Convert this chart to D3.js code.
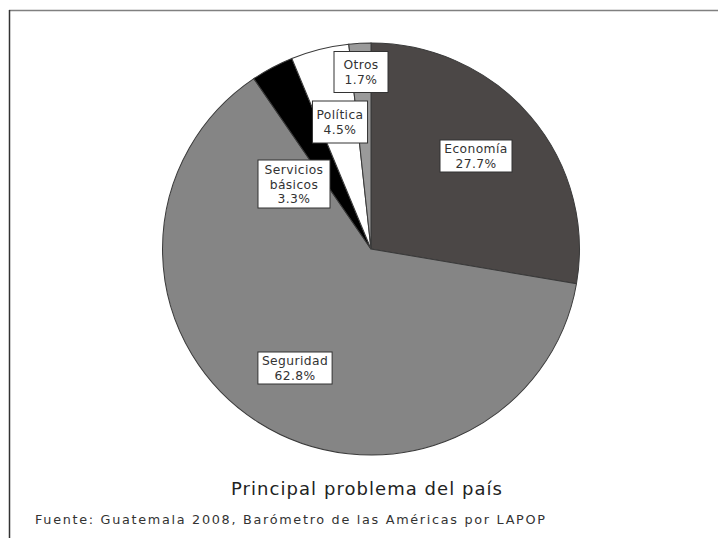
<!DOCTYPE html>
<html><head><meta charset="utf-8">
<script src="https://cdn.jsdelivr.net/npm/d3@7"></script>
<style>body{margin:0;background:#fff}</style>
</head><body><svg id="c" width="718" height="538"></svg>
<script>
const categories = ["Economía","Seguridad","Servicios básicos","Política","Otros"];
const values = [27.7, 62.8, 3.3, 4.5, 1.7];
const colors = ["#4b4746","#858585","#000000","#ffffff","#9a9a9a"];
const title = "Principal problema del país";
const source = "Fuente: Guatemala 2008, Barómetro de las Américas por LAPOP";
// label placement (box centers relative to pie center) and minimum box sizes, as laid out in the original
const labelOffsets = [[105,-93],[-76,119],[-77,-65],[-31,-127],[-10,-177]];
const labelMinSize = [[72,32],[74,32],[72,48],[54,42],[54,41]];

const svg = d3.select("#c");
const cx=371, cy=249, R=206;
const FONT = "DejaVu Sans, Verdana, sans-serif";

svg.append("line").attr("x1",9).attr("x2",718).attr("y1",10.5).attr("y2",10.5).attr("stroke","#808080").attr("stroke-width",1.5);
svg.append("line").attr("x1",9.5).attr("x2",9.5).attr("y1",10).attr("y2",538).attr("stroke","#333").attr("stroke-width",1.5);

const pie = d3.pie().sort(null).value(d=>d);
const arcs = pie(values);
const arc = d3.arc().innerRadius(0).outerRadius(R);
const g = svg.append("g").attr("transform",`translate(${cx},${cy})`);
g.append("g").attr("transform","scale(1.012,1)")
  .selectAll("path").data(arcs).join("path")
  .attr("d",arc).attr("fill",(d,i)=>colors[i])
  .attr("stroke","#3a3a3a").attr("stroke-width",1);

const fmt = d3.format(".1f");
arcs.forEach((d,i)=>{
  const lines = (categories[i]==="Servicios básicos" ? ["Servicios","básicos"] : [categories[i]]).concat([fmt(values[i])+"%"]);
  const lg = g.append("g").attr("transform",`translate(${labelOffsets[i][0]},${labelOffsets[i][1]})`);
  const lh = 14.5;
  const t = lg.append("text").attr("text-anchor","middle")
    .attr("font-family",FONT).attr("font-size",12.3)
    .attr("fill","#333").attr("letter-spacing",0.4);
  lines.forEach((l,j)=>{
    t.append("tspan").attr("x",0).attr("y",(j-(lines.length-1)/2)*lh+4.5).text(l);
  });
  const bb = t.node().getBBox();
  const w = Math.max(labelMinSize[i][0], bb.width+8);
  const h = Math.max(labelMinSize[i][1], lines.length*lh+3);
  lg.insert("rect","text").attr("x",-w/2).attr("y",-h/2)
    .attr("width",w).attr("height",h)
    .attr("fill","#fff").attr("stroke","#333").attr("stroke-width",1);
});

svg.append("text").attr("x",231).attr("y",495)
  .attr("font-family",FONT).attr("font-size",18)
  .attr("textLength",271).attr("lengthAdjust","spacing")
  .attr("fill","#222").text(title);
svg.append("text").attr("x",35).attr("y",524)
  .attr("font-family",FONT).attr("font-size",12.8)
  .attr("textLength",510).attr("lengthAdjust","spacing")
  .attr("fill","#333").text(source);
</script></body></html>
